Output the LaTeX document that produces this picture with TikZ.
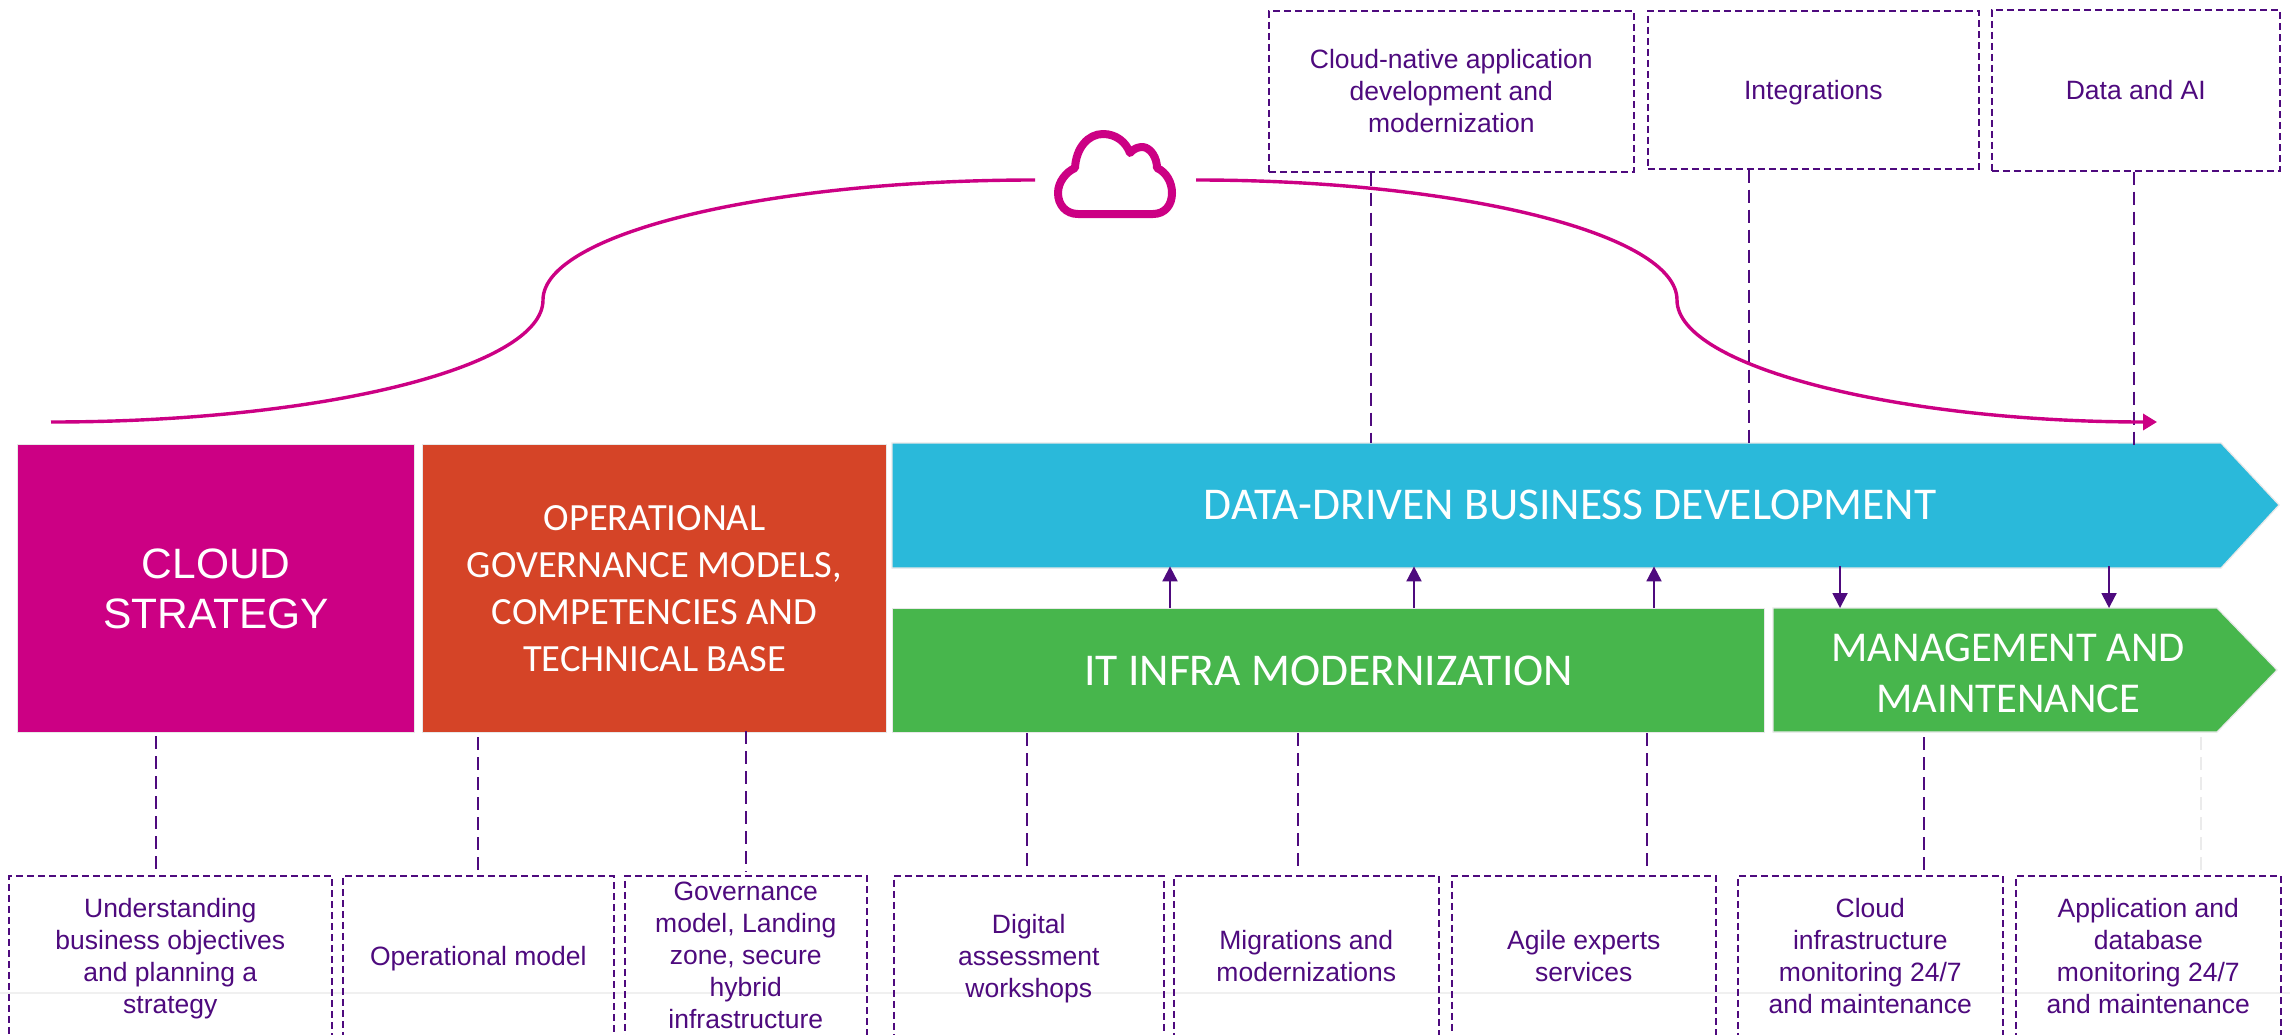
\documentclass[tikz,border=0pt]{standalone}
\usepackage{fontspec}
\setmainfont{Liberation Sans}
\newfontfamily\headfont{Carlito}
\usetikzlibrary{arrows.meta}
\definecolor{mag}{HTML}{CC0084}
\definecolor{org}{HTML}{D54427}
\definecolor{sky}{HTML}{2AB9DA}
\definecolor{grn}{HTML}{47B64C}
\definecolor{pur}{HTML}{4E0A7E}
\definecolor{edge}{HTML}{E8E8E8}
\newcommand{\nd}[1]{\raisebox{0pt}[\height][0pt]{#1}}
\tikzset{
  x=1pt,y=-1pt,
  panel/.style={inner sep=0pt,align=center,text=white,anchor=north west},
  edged/.style={draw=edge,line width=1.2pt},
  headtext/.style={font=\headfont\fontsize{45.5}{51}\selectfont},
  mgmttext/.style={font=\headfont\fontsize{42.5}{51}\selectfont},
  govtext/.style={font=\headfont\fontsize{38.5}{46.7}\selectfont},
  strattext/.style={font=\fontsize{42.5}{50}\selectfont},
  notebox/.style={draw=pur,line width=1.6pt,dash pattern=on 7pt off 4pt,inner sep=0pt,align=center,text=pur,anchor=north west,
     font=\fontsize{26.5}{32}\selectfont},
  conn/.style={draw=pur,line width=1.1pt,dash pattern=on 13pt off 7pt},
  flow/.style={draw=pur,line width=2pt,-{Triangle[length=15pt,width=15pt]}},
  wave/.style={draw=mag,line width=3.4pt,line cap=butt},
}
\begin{document}
\begin{tikzpicture}
\useasboundingbox (0,0) rectangle (2290,1035);
\fill[white] (0,0) rectangle (2290,1035);
% faint rule
\coordinate (ruleL) at (0,993); \coordinate (ruleR) at (2290,993);
\draw[draw=black!6,line width=1.5pt] (ruleL) -- (ruleR);
% top boxes
\node[notebox,minimum width=365pt,minimum height=161pt] (tA) at (1268,10) {Cloud-native application\\development and\\modernization};
\node[notebox,minimum width=331pt,minimum height=158pt] (tB) at (1647,10) {\nd{Integrations}};
\node[notebox,minimum width=288pt,minimum height=161pt] (tC) at (1991,9) {Data and AI};
% panels
\node[panel,edged,fill=mag,minimum width=397pt,minimum height=288pt,strattext] (strategy) at (17,444) {CLOUD\\STRATEGY};
\node[panel,edged,fill=org,minimum width=464pt,minimum height=288pt,govtext] (gov) at (422,444) {OPERATIONAL\\GOVERNANCE MODELS,\\COMPETENCIES AND\\TECHNICAL BASE};
\fill[sky,draw=edge,line width=1.2pt] (892,443) -- (2221,443) -- (2279,505) -- (2221,568) -- (892,568) -- cycle;
\node[panel,minimum width=1356pt,minimum height=124pt,headtext] (blue) at (892,443) {DATA-DRIVEN BUSINESS DEVELOPMENT};
\node[panel,edged,fill=grn,minimum width=872pt,minimum height=124pt,headtext] (it) at (892,608) {IT INFRA MODERNIZATION};
\fill[grn,draw=edge,line width=1.2pt] (1773,608) -- (2217,608) -- (2277,670) -- (2217,732) -- (1773,732) -- cycle;
\node[panel,minimum width=470pt,minimum height=124pt,mgmttext] (mgmt) at (1773,611) {MANAGEMENT AND\\MAINTENANCE};
% bottom boxes
\node[notebox,minimum width=323pt,minimum height=160pt] (b1) at (8,875) {Understanding\\business objectives\\and planning a\\\nd{strategy}};
\node[notebox,minimum width=271pt,minimum height=160pt] (b2) at (342,875) {\nd{Operational model}};
\node[notebox,minimum width=242pt,minimum height=160pt] (b3) at (624,875) {Governance\\model, Landing\\zone, secure\\hybrid\\infrastructure};
\node[notebox,minimum width=270pt,minimum height=160pt] (b4) at (893,875) {Digital\\assessment\\\nd{workshops}};
\node[notebox,minimum width=265pt,minimum height=160pt] (b5) at (1173,875) {Migrations and\\modernizations};
\node[notebox,minimum width=264pt,minimum height=160pt] (b6) at (1451,875) {Agile experts\\services};
\node[notebox,minimum width=265pt,minimum height=160pt] (b7) at (1737,875) {Cloud\\infrastructure\\monitoring 24/7\\and maintenance};
\node[notebox,minimum width=265pt,minimum height=160pt] (b8) at (2015,875) {Application and\\database\\monitoring 24/7\\and maintenance};
% top connectors
\coordinate (xA) at (1371,0); \coordinate (xB) at (1749,0); \coordinate (xC) at (2134,0);
\draw[conn] (xA |- tA.south) -- (xA |- blue.north);
\draw[conn] (xB |- tB.south) -- (xB |- blue.north);
\draw[conn] (xC |- tC.south) -- ([yshift=-6pt]xC |- blue.north);
% bottom connectors
\coordinate (xa) at (156,0); \coordinate (xb) at (478,0); \coordinate (xc) at (746,0); \coordinate (xd) at (1027,0);
\coordinate (xe) at (1298,0); \coordinate (xf) at (1647,0); \coordinate (xg) at (1924,0); \coordinate (xh) at (2201,0);
\draw[conn,shorten <=3pt,shorten >=5pt] (xa |- strategy.south) -- (xa |- b1.north);
\draw[conn,shorten <=4pt,shorten >=5pt] (xb |- gov.south) -- (xb |- b2.north);
\draw[conn,shorten <=-2pt,shorten >=3pt] (xc |- gov.south) -- (xc |- b3.north);
\draw[conn,shorten <=0pt,shorten >=7pt] (xd |- it.south) -- (xd |- b4.north);
\draw[conn,shorten <=0pt,shorten >=9pt] (xe |- it.south) -- (xe |- b5.north);
\draw[conn,shorten <=0pt,shorten >=9pt] (xf |- it.south) -- (xf |- b6.north);
\draw[conn,shorten <=4pt,shorten >=5pt] (xg |- it.south) -- (xg |- b7.north);
\draw[conn,draw=black!8,shorten <=4pt,shorten >=5pt] (xh |- it.south) -- (xh |- b8.north);
% arrows between bands
\coordinate (up) at (1170,0); \coordinate (uq) at (1414,0); \coordinate (ur) at (1654,0);
\coordinate (ds) at (1840,0); \coordinate (dt) at (2109,0);
\draw[flow] (up |- it.north) -- ([yshift=1pt]up |- blue.south);
\draw[flow] (uq |- it.north) -- ([yshift=1pt]uq |- blue.south);
\draw[flow] (ur |- it.north) -- ([yshift=1pt]ur |- blue.south);
\draw[flow] ([yshift=1pt]ds |- blue.south) -- (ds |- it.north);
\draw[flow] ([yshift=1pt]dt |- blue.south) -- (dt |- it.north);
% cloud icon
\draw[mag,line width=8pt,line join=round,fill=white]
  (1078,214) .. controls (1066,214) and (1058,205) .. (1058,193)
  .. controls (1058,182) and (1066,172) .. (1075,168)
  .. controls (1076,148) and (1088,134) .. (1103,134)
  .. controls (1116,134) and (1126,142) .. (1130,153)
  .. controls (1134,148) and (1139,147) .. (1143,147)
  .. controls (1151,148) and (1157,158) .. (1157,168)
  .. controls (1166,172) and (1172,182) .. (1172,193)
  .. controls (1172,205) and (1165,214) .. (1153,214) -- cycle;
% wave
\coordinate (w0) at (51,422); \coordinate (w1) at (543,300); \coordinate (w2) at (1035,180);
\coordinate (w3) at (1196,180); \coordinate (w4) at (1677,300); \coordinate (w5) at (2157,422);
\draw[wave] (w0) .. controls (322,422) and (543,367) .. (w1) .. controls (543,234) and (764,180) .. (w2);
\draw[wave,-{Triangle[length=14pt,width=16pt]}] (w3) .. controls (1460,180) and (1677,234) .. (w4) .. controls (1677,367) and (1900,422) .. (w5);
\end{tikzpicture}
\end{document}
